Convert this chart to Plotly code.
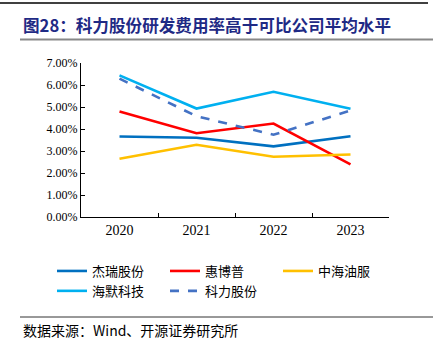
import plotly.graph_objects as go

years = ["2020", "2021", "2022", "2023"]
jierui = [0.0366, 0.0360, 0.0321, 0.0367]
huibopu = [0.0479, 0.0381, 0.0425, 0.0239]
zhonghai = [0.0265, 0.0328, 0.0274, 0.0284]
haimo = [0.0644, 0.0493, 0.0569, 0.0492]
keli = [0.0629, 0.0458, 0.0374, 0.0484]
names = ["杰瑞股份", "惠博普", "中海油服", "海默科技", "科力股份"]
title_text = "图28：科力股份研发费用率高于可比公司平均水平"
source_text = "数据来源：Wind、开源证券研究所"

W, H = 433, 352
L, R, T, B = 81, 44, 63, 135
PW, PH = W - L - R, H - T - B

def px(x):
    return (x - L) / PW

def py(y):
    return (H - B - y) / PH

CJK = "Noto Sans CJK SC"
SERIF = "Liberation Serif"

fig = go.Figure()
series = [
    (jierui, "#0070C0", "solid"),
    (huibopu, "#FF0000", "solid"),
    (zhonghai, "#FFC000", "solid"),
    (haimo, "#00B0F0", "solid"),
    (keli, "#4472C4", "dash"),
]
for (vals, color, dash), name in zip(series, names):
    fig.add_trace(go.Scatter(
        x=years, y=vals, name=name, mode="lines",
        line=dict(color=color, width=2.6, dash=dash),
        hoverinfo="skip",
    ))

fig.update_layout(
    width=W, height=H,
    margin=dict(l=L, r=R, t=T, b=B, pad=0),
    paper_bgcolor="white", plot_bgcolor="white",
    showlegend=True,
    legend=dict(
        orientation="h", x=px(52), xanchor="left", y=py(256), yanchor="top",
        entrywidth=68, entrywidthmode="pixels",
        font=dict(family=CJK, size=13, color="#000"),
        bgcolor="rgba(0,0,0,0)", tracegroupgap=0, itemwidth=30,
    ),
    xaxis=dict(
        type="category", showline=True, linecolor="#000", linewidth=1,
        ticks="inside", ticklen=4, tickcolor="#000", tickson="boundaries",
        showgrid=False, zeroline=False,
        tickfont=dict(family=SERIF, size=14, color="#000"),
        range=[-0.5, 3.5],
    ),
    yaxis=dict(
        range=[0, 0.07], dtick=0.01, tickformat=".2%",
        showline=True, linecolor="#000", linewidth=1,
        ticks="inside", ticklen=4, tickcolor="#000",
        showgrid=False, zeroline=False,
        tickfont=dict(family=SERIF, size=12, color="#000"),
    ),
    annotations=[
        dict(text="<b>" + title_text + "</b>", xref="paper", yref="paper",
             x=px(21), y=py(25), xanchor="left", yanchor="middle", showarrow=False,
             font=dict(family=CJK, size=16.6, color="#1F2A85")),
        dict(text=source_text, xref="paper", yref="paper",
             x=px(21), y=py(330), xanchor="left", yanchor="middle", showarrow=False,
             font=dict(family=CJK, size=14, color="#000")),
    ],
    shapes=[
        dict(type="line", xref="paper", yref="paper", x0=px(0), x1=px(428),
             y0=py(3), y1=py(3), line=dict(color="#000", width=1.5)),
        dict(type="line", xref="paper", yref="paper", x0=px(20), x1=px(433),
             y0=py(39.5), y1=py(39.5), line=dict(color="#888", width=2)),
        dict(type="line", xref="paper", yref="paper", x0=px(20), x1=px(433),
             y0=py(317), y1=py(317), line=dict(color="#333", width=1)),
    ],
)

fig.write_html("out.html")
